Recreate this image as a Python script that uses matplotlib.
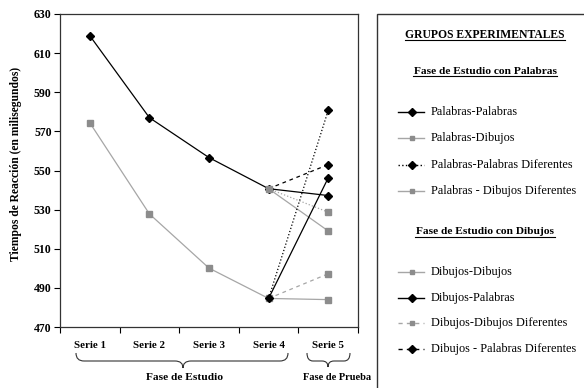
import matplotlib
matplotlib.use('Agg')
import matplotlib.pyplot as plt
from matplotlib.lines import Line2D
from matplotlib.path import Path
from matplotlib.patches import PathPatch, Rectangle

# ---------------- data ----------------
series_labels = ['Serie 1', 'Serie 2', 'Serie 3', 'Serie 4', 'Serie 5']
study_palabras = [618.9, 577.0, 556.6, 540.7]   # Fase de Estudio con Palabras
study_dibujos = [574.4, 527.8, 500.1, 484.6]    # Fase de Estudio con Dibujos

test_palabras_names = ['Palabras-Palabras', 'Palabras-Dibujos',
                       'Palabras-Palabras Diferentes', 'Palabras - Dibujos Diferentes']
test_palabras_values = [537.2, 519.1, 553.0, 528.7]
test_dibujos_names = ['Dibujos-Dibujos', 'Dibujos-Palabras',
                      'Dibujos-Dibujos Diferentes', 'Dibujos - Palabras Diferentes']
test_dibujos_values = [484.0, 546.2, 497.2, 580.7]

yticks = [470, 490, 510, 530, 550, 570, 590, 610, 630]

# ---------------- styles ----------------
BLACK = '#000000'
GRAY_L = '#a6a6a6'
GRAY_M = '#8c8c8c'
serif = ['Liberation Serif', 'DejaVu Serif']

pal_styles = [  # (line color, marker color, marker, plot ls, legend ls)
    (BLACK, BLACK, 'D', '-', '-'),
    (GRAY_L, GRAY_M, 's', '-', '-'),
    (BLACK, BLACK, 'D', (0, (3, 3)), ':'),
    (GRAY_L, GRAY_M, 's', ':', '-'),
]
dib_styles = [
    (GRAY_L, GRAY_M, 's', '-', '-'),
    (BLACK, BLACK, 'D', '-', '-'),
    (GRAY_L, GRAY_M, 's', (0, (3, 3)), (0, (3, 3))),
    (BLACK, BLACK, 'D', ':', (0, (3, 3))),
]

W, H = 584, 388
fig = plt.figure(figsize=(W / 100, H / 100), dpi=100)
fx = lambda x: x / W
fy = lambda y: 1 - y / H

ax = fig.add_axes([fx(60), fy(327), fx(358) - fx(60), fy(14) - fy(327)])
xs = list(range(1, len(series_labels) + 1))

# study phase
ax.plot(xs[:4], study_palabras, color=BLACK, lw=0.9, marker='D', ms=4, mfc=BLACK, mec=BLACK, zorder=3)
ax.plot(xs[:4], study_dibujos, color=GRAY_L, lw=0.9, marker='s', ms=5, mfc=GRAY_M, mec=GRAY_M, zorder=3)

# test phase
for v, (lc, mc, mk, ls, _) in zip(test_palabras_values, pal_styles):
    ax.plot([xs[3], xs[4]], [study_palabras[-1], v], color=lc, lw=0.9, ls=ls, zorder=3)
    ax.plot([xs[4]], [v], ls='none', marker=mk, ms=4 if mk == 'D' else 5, mfc=mc, mec=mc, zorder=4)
for v, (lc, mc, mk, ls, _) in zip(test_dibujos_values, dib_styles):
    ax.plot([xs[3], xs[4]], [study_dibujos[-1], v], color=lc, lw=0.9, ls=ls, zorder=3)
    ax.plot([xs[4]], [v], ls='none', marker=mk, ms=4 if mk == 'D' else 5, mfc=mc, mec=mc, zorder=4)
# markers at Serie 4 overlapping as in the reference
ax.plot([xs[3]], [study_palabras[-1]], ls='none', marker='s', ms=5, mfc=GRAY_M, mec=GRAY_M, zorder=5)
ax.plot([xs[3]], [study_dibujos[-1]], ls='none', marker='D', ms=4, mfc=BLACK, mec=BLACK, zorder=5)

ax.set_xlim(0.5, 5.5)
ax.set_ylim(470, 630)
ax.set_yticks(yticks)
ax.set_yticklabels([str(t) for t in yticks], fontfamily=serif, fontweight='bold', fontsize=8.5)
ax.set_xticks([x + 0.5 for x in [0] + xs])
ax.set_xticklabels([])
ax.set_xticks(xs, minor=True)
ax.set_xticklabels(series_labels, minor=True, fontfamily=serif, fontweight='bold', fontsize=7.8)
ax.tick_params(axis='x', which='minor', length=0, pad=10)
ax.tick_params(axis='x', which='major', length=4, width=0.8, direction='out')
ax.tick_params(axis='y', length=4, width=0.8, direction='out', pad=2)
for s in ax.spines.values():
    s.set_linewidth(0.9)
    s.set_color('#333333')

ax.set_ylabel('Tiempos de Reacción (en milisegundos)', fontfamily=serif, fontweight='bold', fontsize=8.4)
ax.yaxis.set_label_coords(-0.128, 0.52)

# braces
def brace(x0, x1, xm, ytop, ybar, ybot, r=8):
    P = [(x0, ytop), (x0, ybar), (x0 + r, ybar), (xm - r, ybar), (xm, ybar), (xm, ybot),
         (xm, ybar), (xm + r, ybar), (x1 - r, ybar), (x1, ybar), (x1, ytop)]
    C = [Path.MOVETO, Path.CURVE3, Path.CURVE3, Path.LINETO, Path.CURVE3, Path.CURVE3,
         Path.CURVE3, Path.CURVE3, Path.LINETO, Path.CURVE3, Path.CURVE3]
    P = [(fx(a), fy(b)) for a, b in P]
    fig.add_artist(PathPatch(Path(P, C), fc='none', ec='#333333', lw=0.8, transform=fig.transFigure))

brace(76, 288, 183, 353, 361, 368)
brace(307, 350, 328, 353, 361, 367, r=6)
fig.text(fx(185), fy(377), 'Fase de Estudio', ha='center', va='center',
         fontfamily=serif, fontweight='bold', fontsize=8.2)
fig.text(fx(337), fy(377), 'Fase de Prueba', ha='center', va='center',
         fontfamily=serif, fontweight='bold', fontsize=7.5)

# legend box
fig.add_artist(Rectangle((fx(377), fy(400)), fx(220), fy(14) - fy(400), fc='none', ec='#333333',
                         lw=1.0, transform=fig.transFigure, clip_on=False))
fig.text(fx(485), fy(35), 'GRUPOS EXPERIMENTALES', ha='center', va='center', fontfamily=serif,
         fontweight='bold', fontsize=8.4)
fig.text(fx(485), fy(71), 'Fase de Estudio con Palabras', ha='center', va='center', fontfamily=serif,
         fontweight='bold', fontsize=8.2)
fig.text(fx(485), fy(232), 'Fase de Estudio con Dibujos', ha='center', va='center', fontfamily=serif,
         fontweight='bold', fontsize=8.2)
for yy, x0, x1 in [(40, 405, 565), (76, 413, 557), (237, 415, 555)]:
    fig.add_artist(Line2D([fx(x0), fx(x1)], [fy(yy), fy(yy)], color='black', lw=0.8,
                          transform=fig.transFigure))

def legend_entry(y, name, style):
    lc, mc, mk, _, lls = style
    fig.add_artist(Line2D([fx(398), fx(424)], [fy(y), fy(y)], color=lc, lw=1.0, ls=lls,
                          transform=fig.transFigure))
    fig.add_artist(Line2D([fx(412)], [fy(y)], ls='none', marker=mk, ms=4 if mk == 'D' else 3.5,
                          mfc=mc, mec=mc, transform=fig.transFigure))
    fig.text(fx(431), fy(y), name, ha='left', va='center', fontfamily=serif, fontsize=8.8)

for y, n, s in zip([112, 138, 165, 191], test_palabras_names, pal_styles):
    legend_entry(y, n, s)
for y, n, s in zip([272, 298, 323, 349], test_dibujos_names, dib_styles):
    legend_entry(y, n, s)

fig.savefig('out.png', dpi=100)
